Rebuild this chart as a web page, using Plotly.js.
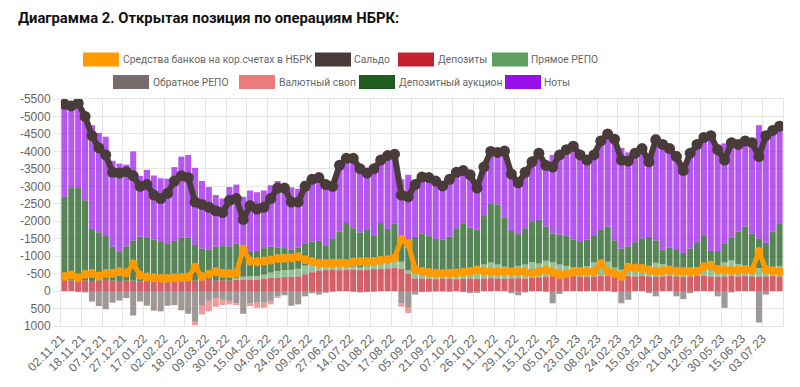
<!DOCTYPE html>
<html><head><meta charset="utf-8">
<script src="https://cdn.plot.ly/plotly-3.0.1.min.js"></script>
<style>html,body{margin:0;padding:0;background:#fff}#chart{width:800px;height:387px}</style>
</head><body><div id="chart"></div>
<script>
// ---- data ----
const tickLabels = ['02.11.21','18.11.21','07.12.21','27.12.21','17.01.22','02.02.22','18.02.22','09.03.22','30.03.22','15.04.22','04.05.22','24.05.22','09.06.22','27.06.22','14.07.22','01.08.22','17.08.22','05.09.22','21.09.22','07.10.22','26.10.22','11.11.22','29.11.22','15.12.22','05.01.23','23.01.23','08.02.23','24.02.23','15.03.23','05.04.23','21.04.23','12.05.23','30.05.23','15.06.23','03.07.23'];
const yTicks = [-5500,-5000,-4500,-4000,-3500,-3000,-2500,-2000,-1500,-1000,-500,0,500,1000];
const pointsPerTick = 3;

const sredstva = [-420,-460,-380,-480,-500,-430,-500,-510,-550,-520,
 -780,-450,-400,-380,-370,-370,-380,-390,-400,-680,
 -420,-480,-550,-510,-500,-520,-1200,-860,-840,-860,
 -890,-930,-940,-950,-980,-900,-850,-800,-790,-800,
 -800,-790,-830,-845,-840,-850,-880,-900,-950,-1480,
 -1350,-620,-560,-530,-510,-500,-510,-520,-540,-560,
 -600,-570,-560,-550,-560,-550,-560,-540,-510,-560,
 -600,-540,-470,-500,-540,-560,-550,-560,-780,-560,
 -510,-420,-680,-660,-650,-600,-560,-580,-600,-570,
 -560,-550,-560,-700,-740,-620,-600,-590,-600,-610,
 -600,-1130,-620,-580,-560];

const saldo = [-5350,-5300,-5380,-5000,-4450,-4100,-3900,-3400,-3380,-3420,
 -3300,-3000,-3050,-2750,-2650,-2800,-3150,-3300,-3250,-2550,
 -2480,-2400,-2300,-2250,-2600,-2650,-2050,-2450,-2350,-2400,
 -2650,-2950,-2950,-2550,-2550,-3000,-3200,-3250,-3050,-3000,
 -3600,-3800,-3800,-3500,-3380,-3500,-3750,-3880,-3920,-2750,
 -2700,-3050,-3270,-3250,-3150,-3010,-3200,-3400,-3450,-3330,
 -2950,-3550,-4000,-3970,-4010,-3350,-3100,-3400,-3700,-3950,
 -3600,-3550,-3900,-4050,-4150,-3900,-3750,-3900,-4300,-4500,
 -4350,-3750,-3720,-3950,-4080,-3700,-4330,-4200,-4080,-3850,
 -3450,-3950,-4200,-4400,-4450,-4050,-3750,-4250,-4200,-4300,
 -4250,-3850,-4450,-4600,-4720];

const depozity = [-320,-300,-330,-310,-290,-300,-320,-300,-290,-310,-300,-280,
 -290,-280,-300,-290,-300,-310,-290,-300,-310,-320,-300,-310,-300,-320,
 -330,-320,-330,-350,-380,-390,-400,-410,-420,
 -480,-540,-590,-600,-610,-600,-610,-620,-600,-610,-630,-640,-650,-660,-640,-500,
 -360,-360,-350,-340,-360,-350,-340,-350,-360,-350,-360,-370,-360,-350,-360,-370,-360,-380,-390,
 -420,-430,-410,-420,-430,-420,-410,-420,-430,-440,-420,-410,-430,-420,-430,-420,-410,-420,-430,-420,-410,-420,-430,-440,-420,-410,-420,-430,-420,-430,-420,-410,-420,-430,-420];

const pryamoeRepo = [0,0,0,0,0,0,0,0,0,0,0,0,0,0,0,0,0,0,0,0,0,0,0,0,0,
 -60,-80,-100,-100,-120,-150,-180,-200,-200,-220,
 -250,-250,-200,-150,-150,-100,-100,-80,-80,-100,-150,-250,-300,-300,
 -200,-100,
 -150,-150,-200,-200,-180,-200,-200,-250,
 -300,-350,-400,-450,-400,-350,-300,-350,-400,-450,-400,
 -450,-400,-350,-300,-250,-200,-300,-400,-450,-400,-250,-200,-200,-250,-250,-300,-400,-350,-250,-200,-200,-250,-250,-300,-250,-300,-400,-450,-350,-300,-250,-250,-200,-250,-300];

const obratnoeRepo = [0,0,30,40,300,430,520,330,270,200,
 700,300,420,560,580,420,400,550,650,880,
 420,280,200,250,280,350,650,350,330,330,
 280,150,120,420,380,150,60,100,50,20,
 0,0,20,40,30,20,0,0,0,350,
 480,100,30,20,10,10,20,0,30,60,
 50,0,0,0,0,60,120,40,0,0,
 20,350,80,0,0,0,0,0,0,0,
 30,350,250,0,0,60,150,0,0,150,
 230,60,0,0,0,150,480,40,0,0,
 0,900,100,0,0];

const valyutnyiSvop = [0,0,0,0,0,0,0,0,0,0,
 0,0,0,0,0,0,0,0,0,100,
 250,300,250,150,100,50,0,80,150,150,
 100,50,0,0,0,0,0,0,0,0,
 0,0,0,0,0,0,0,0,0,100,
 150,0,0,0,0,0,0,0,0,0,
 0,0,0,0,0,0,0,0,0,0,
 0,0,0,0,0,0,0,0,0,0,
 0,0,0,0,0,0,0,0,0,0,
 0,0,0,0,0,0,0,0,0,0,
 0,0,0,0,0];

const depAuktsion = [-2380,-2650,-2620,-2290,-1490,-1380,-1280,-970,-830,-970,
 -1150,-1280,-1230,-1200,-1130,-1080,-1140,-1230,-1240,-1020,
 -910,-870,-970,-980,-980,-990,-690,-700,-720,-760,
 -740,-680,-630,-580,-610,-620,-630,-650,-540,-740,
 -1000,-1240,-1100,-1000,-1040,-820,-1060,-830,-980,-560,
 -870,-1040,-1140,-1030,-960,-940,-1010,-1260,-1320,-1160,
 -1060,-1390,-1680,-1720,-1400,-1060,-910,-1040,-1150,-1260,
 -980,-820,-860,-860,-790,-810,-760,-780,-870,-1010,
 -780,-610,-650,-730,-830,-830,-640,-420,-570,-580,
 -480,-550,-720,-860,-480,-440,-530,-660,-930,-1120,
 -980,-840,-760,-1020,-1200];

const noty = [-2650,-2350,-2460,-2440,-2970,-2850,-2820,-2460,-2530,-2340,
 -2550,-1740,-1950,-1830,-1800,-1850,-2110,-2310,-2370,-2210,
 -1930,-1790,-1480,-1360,-1700,-1680,-1600,-1760,-1680,-1650,
 -1760,-1900,-1840,-1780,-1680,-1800,-1840,-1910,-1810,-1520,
 -1900,-1850,-2020,-1860,-1660,-1920,-1800,-2100,-1980,-1800,
 -1860,-1600,-1650,-1690,-1660,-1540,-1660,-1600,-1560,-1570,
 -1240,-1400,-1500,-1490,-1910,-1690,-1590,-1640,-1720,-1900,
 -1770,-2250,-2360,-2470,-2680,-2470,-2280,-2300,-2550,-2650,
 -2930,-2880,-2690,-2550,-2570,-2210,-3030,-3010,-2830,-2800,
 -2590,-2790,-2800,-2800,-3300,-3050,-2880,-2750,-2500,-2450,
 -2600,-3250,-3170,-2900,-2800];

// ---- drawing ----
const n = saldo.length;
const x = saldo.map((_, i) => i);

const series = [
  {name:'Депозиты', y:depozity, color:'rgba(196,34,49,0.72)'},
  {name:'Прямое РЕПО', y:pryamoeRepo, color:'rgba(95,160,95,0.65)'},
  {name:'Обратное РЕПО', y:obratnoeRepo, color:'rgba(120,107,107,0.7)'},
  {name:'Валютный своп', y:valyutnyiSvop, color:'rgba(236,123,123,0.75)'},
  {name:'Депозитный аукцион', y:depAuktsion, color:'rgba(31,92,31,0.75)'},
  {name:'Ноты', y:noty, color:'rgba(149,16,234,0.70)'}
];

const traces = series.map(s => ({
  type:'bar', name:s.name, x:x, y:s.y, marker:{color:s.color, line:{width:0}}, showlegend:false, hoverinfo:'skip'
}));
traces.push({type:'scatter', mode:'lines+markers', name:'Сальдо', x:x, y:saldo,
  line:{color:'#4a3b3b', width:6}, marker:{color:'#4a3b3b', size:11}, showlegend:false, hoverinfo:'skip'});
traces.push({type:'scatter', mode:'lines+markers', name:'Средства банков на кор.счетах в НБРК', x:x, y:sredstva,
  line:{color:'#ff9a00', width:5}, marker:{color:'#ff9a00', size:9}, showlegend:false, hoverinfo:'skip'});

const W = 800, H = 387, ml = 61, mr = 17, mt = 99, mb = 61;
const pw = W - ml - mr, ph = H - mt - mb;
const px = v => (v - ml) / pw;
const py = v => (H - mb - v) / ph;

const legendItems = [
  {name:'Средства банков на кор.счетах в НБРК', color:'#ff9a00', sx:83, tx:122, cy:59.5},
  {name:'Сальдо', color:'#4a3b3b', sx:315, tx:353, cy:59.5},
  {name:'Депозиты', color:'#c42231', sx:398, tx:437, cy:59.5},
  {name:'Прямое РЕПО', color:'#5fa05f', sx:492, tx:530, cy:59.5},
  {name:'Обратное РЕПО', color:'#786b6b', sx:113, tx:152, cy:82},
  {name:'Валютный своп', color:'#ec7b7b', sx:239, tx:278, cy:82},
  {name:'Депозитный аукцион', color:'#1f5c1f', sx:359, tx:398, cy:82},
  {name:'Ноты', color:'#9510ea', sx:505, tx:543, cy:82}
];
const shapes = legendItems.map(it => ({type:'rect', xref:'paper', yref:'paper',
  x0:px(it.sx), x1:px(it.sx+36), y0:py(it.cy+7), y1:py(it.cy-7),
  fillcolor:it.color, line:{width:0}}));
const annotations = legendItems.map(it => ({xref:'paper', yref:'paper', x:px(it.tx), y:py(it.cy),
  xanchor:'left', yanchor:'middle', text:it.name, showarrow:false, borderpad:0,
  font:{family:'Roboto, Liberation Sans, sans-serif', size:10.3, color:'#666'}}));

const tickFont = {family:'Liberation Sans, Arial, sans-serif', size:12, color:'#666'};
const layout = {
  width:W, height:H, margin:{l:ml, r:mr, t:mt, b:mb, pad:0},
  paper_bgcolor:'#fff', plot_bgcolor:'#fff',
  barmode:'relative', bargap:0.12,
  title:{text:'<b>Диаграмма 2. Открытая позиция по операциям НБРК:</b>', xref:'container', yref:'container',
    x:18/W, xanchor:'left', y:1-18/H, yanchor:'middle',
    font:{family:'Roboto, Liberation Sans, sans-serif', size:14.8, color:'#111'}},
  xaxis:{range:[-0.5, n-0.5], tickmode:'array',
    tickvals:tickLabels.map((_, j) => j*pointsPerTick - 0.5), ticktext:tickLabels,
    tickangle:-45, tickfont:tickFont, showgrid:true, gridcolor:'#e6e6e6', gridwidth:1,
    showline:true, linecolor:'#e6e6e6', mirror:true, zeroline:false, ticks:'', automargin:false, fixedrange:true},
  yaxis:{range:[1000,-5500], tickmode:'array', tickvals:yTicks, ticktext:yTicks.map(v => String(v)),
    tickfont:tickFont, showgrid:true, gridcolor:'#e6e6e6', gridwidth:1,
    ticks:'outside', ticklen:7, tickcolor:'#e6e6e6',
    showline:true, linecolor:'#e6e6e6', mirror:true, zeroline:false, automargin:false, fixedrange:true},
  shapes:shapes, annotations:annotations, showlegend:false
};
Plotly.newPlot('chart', traces, layout, {staticPlot:true, displayModeBar:false});
</script></body></html>
